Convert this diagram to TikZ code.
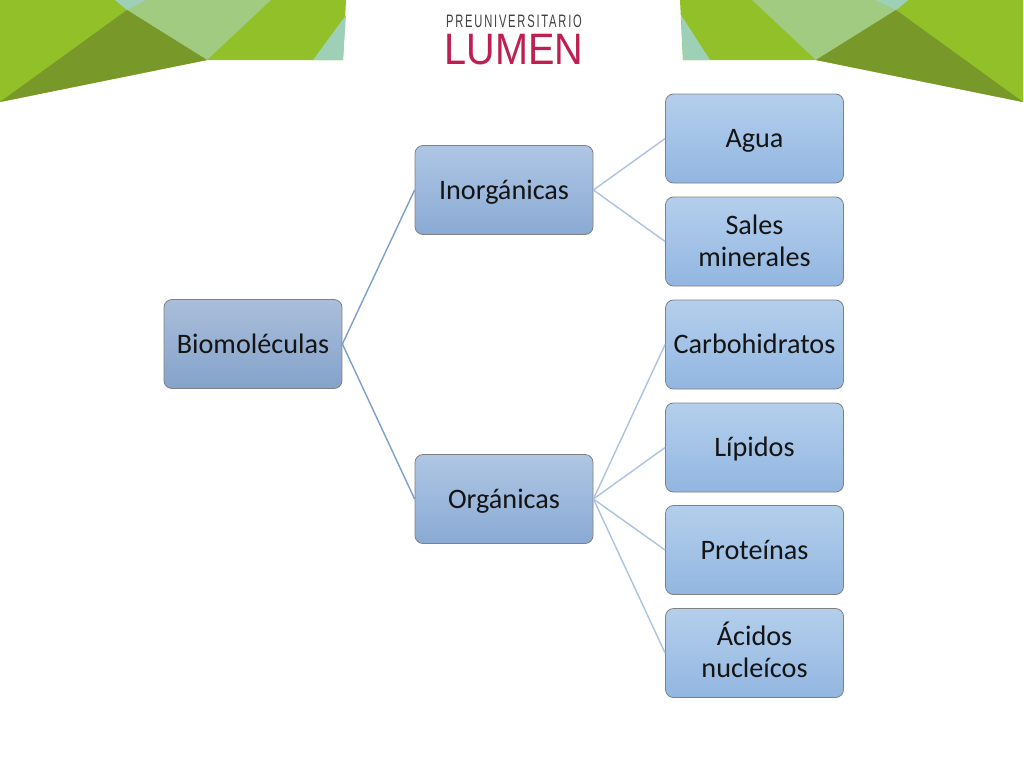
\documentclass[tikz,border=0pt]{standalone}
\usepackage{fontspec}
\setmainfont{Carlito}
\newfontfamily\logofont[LetterSpace=16]{Liberation Sans}
\newfontfamily\logomainfont{Liberation Sans}
\usetikzlibrary{calc}
\definecolor{grA}{RGB}{145,192,40}
\definecolor{grB}{RGB}{120,152,42}
\definecolor{grC}{RGB}{160,203,128}
\definecolor{teal}{RGB}{158,208,184}
\definecolor{lumen}{RGB}{190,30,80}
\definecolor{lineblue}{RGB}{122,160,205}
\definecolor{lineA}{RGB}{170,195,225}
\definecolor{darkT}{RGB}{170,190,218}
\definecolor{darkB}{RGB}{132,162,203}
\definecolor{midT}{RGB}{175,198,228}
\definecolor{midB}{RGB}{138,170,212}
\definecolor{lightT}{RGB}{180,207,236}
\definecolor{lightB}{RGB}{146,182,225}
\tikzset{
  boxbase/.style={rounded corners=8pt,minimum width=178pt,minimum height=89pt,inner sep=0pt,align=center,
     font=\fontsize{28.2}{31.8}\selectfont,text=black!92,draw=black!50,line width=0.8pt},
  oneline/.style={text height=20pt,text depth=1.8pt},
  twolines/.style={text height=52pt,text depth=2.6pt},
  darkbox/.style={boxbase,oneline,top color=darkT,bottom color=darkB},
  midbox/.style={boxbase,oneline,top color=midT,bottom color=midB},
  lightbox/.style={boxbase,oneline,top color=lightT,bottom color=lightB},
  lnk/.style={draw=lineblue,line width=1.4pt},
  lnkl/.style={draw=lineA,line width=1.4pt},
}
\begin{document}
\begin{tikzpicture}[x=1pt,y=-1pt]
\useasboundingbox (0,0) rectangle (1024,768);
\fill[white] (0,0) rectangle (1024,768);
% left banner
\fill[grA] (0,0) -- (346,0) -- (343,60) -- (207,60) -- (0,102) -- cycle;
\fill[grC] (117,0) -- (271,0) -- (207,60) -- (127,10) -- cycle;
\fill[teal] (115,0) -- (146,0) -- (127,10) -- cycle;
\fill[grB] (127,10) -- (207,60) -- (0,102) -- cycle;
\fill[teal] (346,15) -- (343,60) -- (313,60) -- cycle;
% right banner
\fill[grA] (680,0) -- (1023,0) -- (1023,102) -- (816,60) -- (683,60) -- cycle;
\fill[grC] (752,0) -- (908,0) -- (896,10) -- (816,60) -- cycle;
\fill[teal] (875,0) -- (908,0) -- (896,10) -- cycle;
\fill[grB] (896,10) -- (1023,102) -- (816,60) -- cycle;
\fill[teal] (681,15) -- (710,60) -- (683,60) -- cycle;
% logo
\node[inner sep=0pt,anchor=center,font=\logofont\fontsize{18}{19}\selectfont,text=black!75,xscale=0.62] (logotop) at (514,21) {PREUNIVERSITARIO};
\node[inner sep=0pt,anchor=center,font=\logomainfont\fontsize{44}{45}\selectfont,text=lumen,xscale=0.9] (logomain) at (514,49.5) {LUMEN};
% boxes
\node[darkbox] (bio) at (253,344) {Biomoléculas};
\node[midbox] (ino) at (504,190) {Inorgánicas};
\node[midbox] (org) at (504,499) {Orgánicas};
\node[lightbox] (agua) at (754.5,138.5) {Agua};
\node[lightbox,twolines] (sales) at (754.5,241.5) {Sales\\minerales};
\node[lightbox] (carb) at (754.5,344.5) {Carbohidratos};
\node[lightbox] (lip) at (754.5,447.5) {Lípidos};
\node[lightbox] (prot) at (754.5,550) {Proteínas};
\node[lightbox,twolines] (acid) at (754.5,653) {Ácidos\\nucleícos};
% connectors
\draw[lnk] (bio.east) -- (ino.west);
\draw[lnk] (bio.east) -- (org.west);
\foreach \t in {agua,sales}{\draw[lnkl] (ino.east) -- (\t.west);}
\foreach \t in {carb,lip,prot,acid}{\draw[lnkl] (org.east) -- (\t.west);}
\end{tikzpicture}
\end{document}
